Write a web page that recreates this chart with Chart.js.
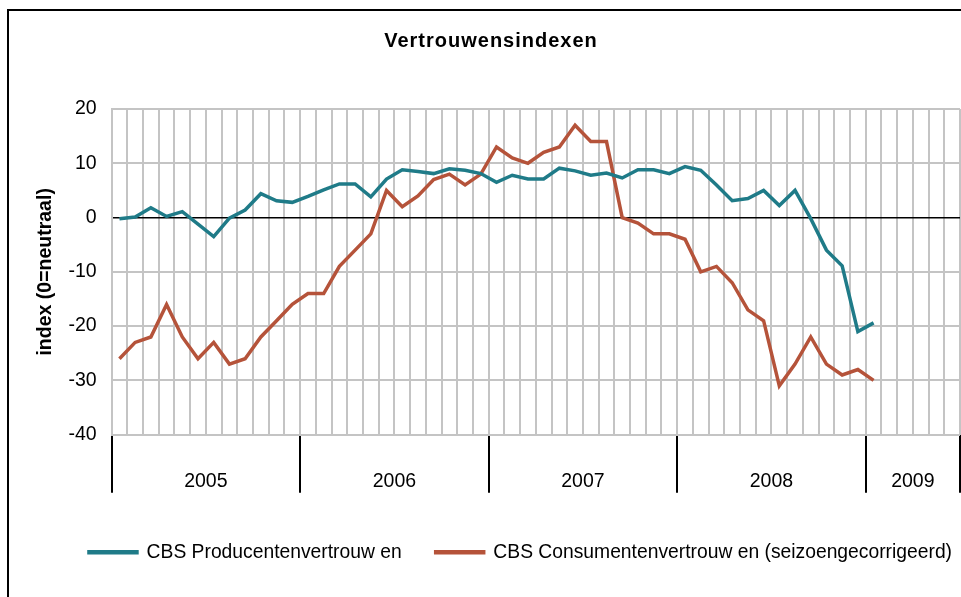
<!DOCTYPE html>
<html><head><meta charset="utf-8">
<script src="https://cdn.jsdelivr.net/npm/chart.js@4.4.1/dist/chart.umd.min.js"></script>
<style>
html,body{margin:0;padding:0;background:#fff;overflow:hidden}
#wrap{position:relative;width:961px;height:597px}
#frame{position:absolute;left:7px;top:9px;width:1000px;height:1000px;border:2px solid #000;box-sizing:border-box}
canvas{position:absolute;left:0;top:0}
</style></head><body>
<div id="wrap"><div id="frame"></div><canvas id="c" width="961" height="597"></canvas></div>
<script>
// ---- data ----
const years = ['2005', '2006', '2007', '2008', '2009'];
const monthsPerYear = [12, 12, 12, 12, 6];
const monthNames = ['jan','feb','mrt','apr','mei','jun','jul','aug','sep','okt','nov','dec'];
const seriesNames = ['CBS Producentenvertrouw en', 'CBS Consumentenvertrouw en (seizoengecorrigeerd)'];
const producer = [-0.2, 0.1, 1.8, 0.2, 1.1, -1.2, -3.5, -0.1, 1.4, 4.4, 3.1, 2.8,
                  3.9, 5.1, 6.2, 6.2, 3.8, 7.1, 8.8, 8.5, 8.1, 9.0, 8.7, 8.1,
                  6.5, 7.8, 7.1, 7.1, 9.1, 8.6, 7.8, 8.2, 7.3, 8.8, 8.8, 8.1,
                  9.4, 8.7, 6.0, 3.1, 3.5, 5.0, 2.2, 5.0, -0.2, -6.0, -8.9, -21.0,
                  -19.4];
const consumer = [-26, -23, -22, -16, -22, -26, -23, -27, -26, -22, -19, -16,
                  -14, -14, -9, -6, -3, 5, 2, 4, 7, 8, 6, 8,
                  13, 11, 10, 12, 13, 17, 14, 14, 0, -1, -3, -3,
                  -4, -10, -9, -12, -17, -19, -31, -27, -22, -27, -29, -28,
                  -30];
const yTicks = [-40, -30, -20, -10, 0, 10, 20];

// ---- derived ----
const months = [];
years.forEach((y, i) => { for (let m = 0; m < monthsPerYear[i]; m++) months.push(monthNames[m] + ' ' + y); });
const total = months.length;
const boundaries = [0];
const mids = {};
years.forEach((y, i) => {
  const start = boundaries[boundaries.length - 1];
  mids[start + monthsPerYear[i] / 2] = y;
  boundaries.push(start + monthsPerYear[i]);
});
const yearTickValues = [...boundaries, ...Object.keys(mids).map(Number)].sort((a, b) => a - b);

const FONT = 'Liberation Sans, Arial, sans-serif';
const TEAL = '#1f7b88';
const BROWN = '#b5533a';
const GRID = '#c4c4c4';

const tweak = {
  id: 'tweak',
  afterLayout(chart) {
    if (chart.legend) { chart.legend.left = 41; chart.legend.right = 1000; chart.legend.width = 959; }
    if (chart.titleBlock) { chart.titleBlock.left = 21; chart.titleBlock.right = 961; chart.titleBlock.width = 940; }
  },
  beforeDraw(chart) {
    const tb = chart.titleBlock;
    if (tb && !tb._ls) {
      const orig = tb.draw.bind(tb);
      tb.draw = function () {
        const ctx = chart.ctx;
        const prev = ctx.letterSpacing;
        ctx.letterSpacing = '1px';
        orig();
        ctx.letterSpacing = prev || '0px';
      };
      tb._ls = true;
    }
  }
};

new Chart(document.getElementById('c'), {
  type: 'line',
  data: {
    labels: months,
    datasets: [
      { label: seriesNames[0], data: producer, borderColor: TEAL, backgroundColor: TEAL, borderWidth: 3.5, pointRadius: 0, tension: 0, fill: false },
      { label: seriesNames[1], data: consumer, borderColor: BROWN, backgroundColor: BROWN, borderWidth: 3.5, pointRadius: 0, tension: 0, fill: false }
    ]
  },
  options: {
    responsive: false,
    animation: false,
    devicePixelRatio: 1,
    layout: { padding: { left: 0, right: 1, top: 0, bottom: 25 } },
    plugins: {
      title: {
        display: true,
        text: 'Vertrouwensindexen',
        color: '#000',
        font: { family: FONT, size: 20, weight: 'bold', lineHeight: 1.2 },
        padding: { top: 29, bottom: 56 }
      },
      legend: {
        display: true,
        position: 'bottom',
        labels: { color: '#000', font: { family: FONT, size: 19.3 }, boxWidth: 48, boxHeight: 1, padding: 34 }
      },
      tooltip: { enabled: false }
    },
    scales: {
      x: {
        type: 'category',
        position: 'bottom',
        offset: true,
        ticks: { display: false },
        grid: { offset: true, drawTicks: false, color: GRID, lineWidth: 2 },
        border: { display: false }
      },
      x2: {
        type: 'linear',
        position: 'bottom',
        min: 0,
        max: total,
        afterBuildTicks: (s) => { s.ticks = yearTickValues.map(v => ({ value: v })); },
        ticks: {
          autoSkip: false, maxRotation: 0, minRotation: 0,
          crossAlign: 'far',
          padding: -11,
          color: '#000',
          font: { family: FONT, size: 19.5, lineHeight: 1.95 },
          callback: (v) => (mids[v] !== undefined ? mids[v] : '')
        },
        grid: {
          drawOnChartArea: false,
          drawTicks: true,
          tickLength: 58,
          lineWidth: 2,
          color: (ctx) => (ctx.tick && boundaries.includes(ctx.tick.value) ? '#000' : 'rgba(0,0,0,0)')
        },
        border: { display: false }
      },
      y: {
        min: yTicks[0],
        max: yTicks[yTicks.length - 1],
        afterBuildTicks: (s) => { s.ticks = yTicks.map(v => ({ value: v })); },
        ticks: { color: '#000', padding: 15, font: { family: FONT, size: 19.5 } },
        grid: {
          drawTicks: false,
          color: (ctx) => (ctx.tick && ctx.tick.value === 0 ? '#000' : GRID),
          lineWidth: (ctx) => (ctx.tick && ctx.tick.value === 0 ? 1.5 : 2)
        },
        border: { color: GRID, width: 2 },
        title: {
          display: true,
          text: 'index (0=neutraal)',
          color: '#000',
          font: { family: FONT, size: 19.5, weight: 'bold', lineHeight: 1.2 },
          padding: { top: 34, bottom: -4 }
        }
      }
    }
  },
  plugins: [tweak]
});
</script>
</body></html>
